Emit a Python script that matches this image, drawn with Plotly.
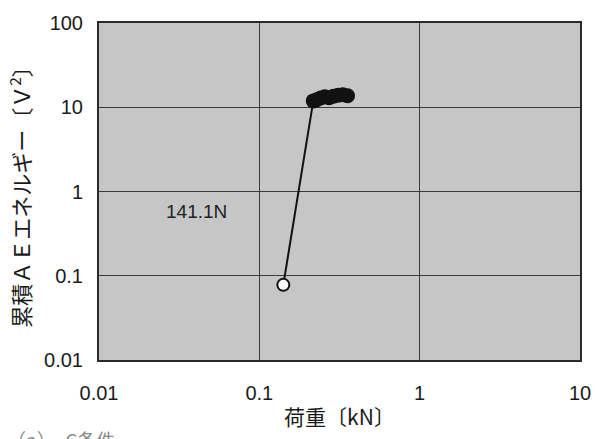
import plotly.graph_objects as go

# data (load in kN, cumulative AE energy in V^2)
first_load = [0.1411]
first_energy = [0.078]
load = [0.1411, 0.217, 0.228, 0.241, 0.256, 0.272, 0.29, 0.31, 0.332, 0.355]
energy = [0.078, 11.9, 12.3, 12.9, 13.3, 13.0, 13.5, 13.9, 14.1, 13.7]
filled_load = load[1:]
filled_energy = energy[1:]

x_ticks = [0.01, 0.1, 1, 10]
x_ticktext = ["0.01", "0.1", "1", "10"]
y_ticks = [0.01, 0.1, 1, 10, 100]
y_ticktext = ["0.01", "0.1", "1", "10", "100"]

font = "Liberation Sans, Arial, Noto Sans CJK JP, sans-serif"
cjk = "Noto Sans CJK JP, Liberation Sans, sans-serif"

fig = go.Figure()
fig.add_trace(go.Scatter(x=load, y=energy, mode="lines",
                         line=dict(color="#111111", width=2), showlegend=False))
fig.add_trace(go.Scatter(x=filled_load, y=filled_energy, mode="markers",
                         marker=dict(color="#111111", size=15, line=dict(width=0)),
                         showlegend=False))
fig.add_trace(go.Scatter(x=first_load, y=first_energy, mode="markers",
                         marker=dict(color="white", size=12, line=dict(color="#111111", width=2)),
                         showlegend=False))

fig.add_annotation(x=-1.39, y=-0.238, xref="x", yref="y", text="141.1N", showarrow=False,
                   font=dict(family=font, size=19, color="#222222"))
fig.add_annotation(x=0.0, y=0.0, xref="paper", yref="paper", xshift=-94, yshift=-64,
                   text="（a）　C条件", showarrow=False, xanchor="left", yanchor="top",
                   font=dict(family=cjk, size=19, color="#8a8a8a"))

fig.update_layout(
    width=602, height=439,
    margin=dict(l=99, r=11, t=23, b=79),
    paper_bgcolor="white", plot_bgcolor="#c6c6c6",
    font=dict(family=font, size=20, color="#1a1a1a"),
)
fig.update_xaxes(type="log", range=[-2, 1], tickvals=x_ticks, ticktext=x_ticktext,
                 showgrid=True, gridcolor="#3a3a3a", gridwidth=1, zeroline=False,
                 showline=True, linecolor="#2a2a2a", linewidth=2, mirror=True,
                 ticks="outside", ticklen=14, tickcolor="rgba(0,0,0,0)",
                 title=dict(text="荷重〔kN〕", font=dict(family=cjk, size=21, color="#1a1a1a"), standoff=7))
fig.update_yaxes(type="log", range=[-2, 2], tickvals=y_ticks, ticktext=y_ticktext,
                 showgrid=True, gridcolor="#3a3a3a", gridwidth=1, zeroline=False,
                 showline=True, linecolor="#2a2a2a", linewidth=2, mirror=True,
                 ticks="outside", ticklen=10, tickcolor="rgba(0,0,0,0)",
                 title=dict(text="累積ＡＥエネルギー〔Ｖ<sup>2</sup>〕", font=dict(family=cjk, size=22, color="#1a1a1a"), standoff=7))

fig.write_html("out.html")
